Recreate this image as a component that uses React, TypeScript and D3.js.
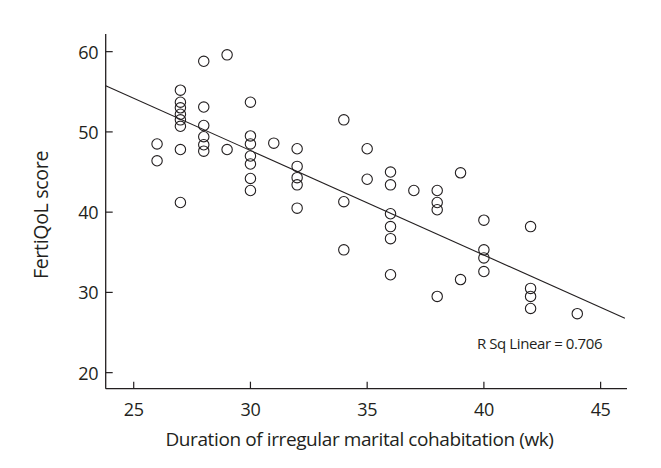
import React from "react";
import * as d3 from "d3";

const durationWk: number[] = [
  26, 26,
  27, 27, 27, 27, 27, 27, 27, 27,
  28, 28, 28, 28, 28, 28,
  29, 29,
  30, 30, 30, 30, 30, 30, 30,
  31,
  32, 32, 32, 32, 32,
  34, 34, 34,
  35, 35,
  36, 36, 36, 36, 36, 36,
  37,
  38, 38, 38, 38,
  39, 39,
  40, 40, 40, 40,
  42, 42, 42, 42,
  44,
];
const fertiQoL: number[] = [
  48.5, 46.4,
  55.2, 53.7, 53.0, 52.2, 51.5, 50.7, 47.8, 41.2,
  58.8, 53.1, 50.8, 49.4, 48.4, 47.6,
  59.6, 47.8,
  53.7, 49.5, 48.5, 47.0, 46.0, 44.2, 42.7,
  48.6,
  47.9, 45.7, 44.3, 43.4, 40.5,
  51.5, 41.3, 35.3,
  47.9, 44.1,
  45.0, 43.4, 39.8, 38.2, 36.7, 32.2,
  42.7,
  42.7, 41.2, 40.3, 29.5,
  44.9, 31.6,
  39.0, 35.3, 34.3, 32.6,
  38.2, 30.5, 29.5, 28.0,
  27.35,
];
const xTicks: number[] = [25, 30, 35, 40, 45];
const yTicks: number[] = [20, 30, 40, 50, 60];
const fitSlope = -1.303;
const fitIntercept = 86.77;
const fitRange: [number, number] = [23.8, 46.04];
const rSqLabel = "R Sq Linear = 0.706";
const xTitle = "Duration of irregular marital cohabitation (wk)";
const yTitle = "FertiQoL score";

const W = 661;
const H = 468;
const INK = "#231f20";
const FONT = "'Open Sans', 'Noto Sans', sans-serif";

export default function App() {
  const x = d3.scaleLinear().domain([23.8, 46.13]).range([105.7, 627]);
  const y = d3.scaleLinear().domain([18.0, 62.2]).range([388.7, 34]);
  const fitLine = d3
    .line<number>()
    .x((d) => x(d))
    .y((d) => y(fitIntercept + fitSlope * d));

  const [x0, x1] = x.range();
  const [yb, yt] = y.range();

  return (
    <svg
      width={W}
      height={H}
      style={{ position: "absolute", left: 0, top: 0, display: "block", background: "#fff" }}
    >
      <rect width={W} height={H} fill="#fff" />
      {/* spines */}
      <line x1={x0} x2={x0} y1={yt} y2={yb} stroke={INK} strokeWidth={1.3} />
      <line x1={x0} x2={x1} y1={yb} y2={yb} stroke={INK} strokeWidth={1.3} />
      {/* y ticks */}
      {yTicks.map((t) => (
        <g key={"y" + t}>
          <line x1={x0} x2={x0 + 7} y1={y(t)} y2={y(t)} stroke={INK} strokeWidth={1.2} />
          <text
            x={x0 - 7.5}
            y={y(t)}
            textAnchor="end"
            dominantBaseline="central"
            fontFamily={FONT}
            fontSize={18}
            letterSpacing={-0.3}
            fill={INK}
          >
            {t}
          </text>
        </g>
      ))}
      {/* x ticks */}
      {xTicks.map((t) => (
        <g key={"x" + t}>
          <line x1={x(t)} x2={x(t)} y1={yb} y2={yb - 7} stroke={INK} strokeWidth={1.2} />
          <text
            x={x(t)}
            y={409}
            textAnchor="middle"
            dominantBaseline="central"
            fontFamily={FONT}
            fontSize={18}
            letterSpacing={-0.3}
            fill={INK}
          >
            {t}
          </text>
        </g>
      ))}
      {/* fit line */}
      <path d={fitLine(fitRange) || ""} fill="none" stroke={INK} strokeWidth={1.1} />
      {/* points */}
      {durationWk.map((d, i) => (
        <circle
          key={i}
          cx={x(d)}
          cy={y(fertiQoL[i])}
          r={5.2}
          fill="none"
          stroke={INK}
          strokeWidth={1.1}
        />
      ))}
      {/* r sq label */}
      <text
        x={539.5}
        y={343}
        textAnchor="middle"
        dominantBaseline="central"
        fontFamily={FONT}
        fontSize={15}
        letterSpacing={-0.4}
        fill={INK}
      >
        {rSqLabel}
      </text>
      {/* axis titles */}
      <text
        x={359.5}
        y={439}
        textAnchor="middle"
        dominantBaseline="central"
        fontFamily={FONT}
        fontSize={19}
        letterSpacing={-0.4}
        fill={INK}
      >
        {xTitle}
      </text>
      <text
        transform={`translate(40, 215) rotate(-90)`}
        textAnchor="middle"
        dominantBaseline="central"
        fontFamily={FONT}
        fontSize={19.5}
        letterSpacing={-0.3}
        fill={INK}
      >
        {yTitle}
      </text>
    </svg>
  );
}
